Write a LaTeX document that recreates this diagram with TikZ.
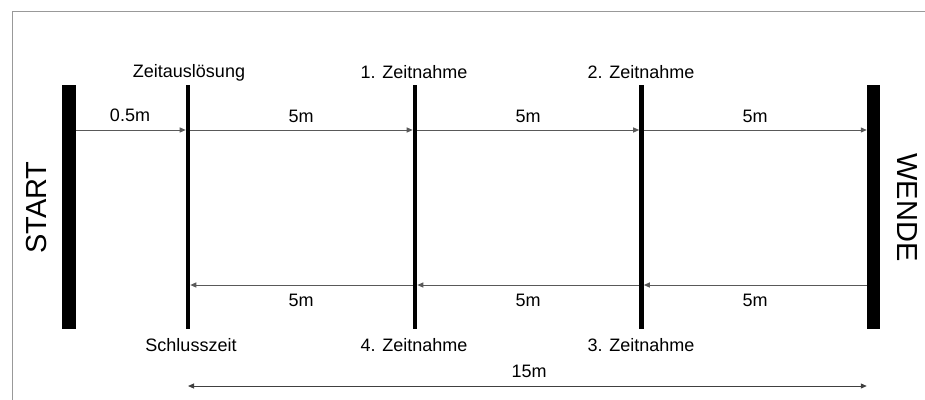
\documentclass[tikz,border=0pt]{standalone}
\usepackage{fontspec}
\setmainfont{Liberation Sans}
\usetikzlibrary{arrows.meta}
\begin{document}
\begin{tikzpicture}[x=1pt,y=-1pt,
  thickbar/.style={fill=black,draw=none,inner sep=0,minimum height=244pt},
  thinbar/.style={fill=black,draw=none,inner sep=0,minimum width=4.2pt,minimum height=244pt},
  dist/.style={draw=black!65,line width=1pt,-{Triangle[length=6pt,width=5pt]}},
  lbl/.style={font=\fontsize{18}{21}\selectfont,inner sep=0},
  big/.style={font=\fontsize{29}{32}\selectfont,inner sep=0}]
\useasboundingbox (0,0) rectangle (925,399);
\draw[black!40,line width=1pt] (12,400) -- (12,11) -- (926,11);
% bars
\node[thickbar,minimum width=14pt] (start) at (69,207) {};
\node[thickbar,minimum width=13pt] (wende) at (873.5,207) {};
\node[thinbar] (b1) at (188,207) {};
\node[thinbar] (b2) at (415,207) {};
\node[thinbar] (b3) at (641.5,207) {};
% levels
\coordinate (top) at (0,130);
\coordinate (bot) at (0,285);
\coordinate (dim) at (0,386);
% top arrows
\draw[dist] (start.east |- top) -- (b1.west |- top);
\draw[dist] (b1.east |- top) -- (b2.west |- top);
\draw[dist] (b2.east |- top) -- (b3.west |- top);
\draw[dist] (b3.east |- top) -- (wende.west |- top);
% bottom arrows
\draw[dist] (wende.west |- bot) -- (b3.east |- bot);
\draw[dist] (b3.west |- bot) -- (b2.east |- bot);
\draw[dist] (b2.west |- bot) -- (b1.east |- bot);
% overall dimension
\draw[draw=black!75,line width=1pt,{Triangle[length=6pt,width=5pt]}-{Triangle[length=6pt,width=5pt]}] (b1 |- dim) -- (wende.west |- dim);
% distance labels
\node[lbl] (d0) at (130,115) {0.5m};
\node[lbl] (d1) at (301,116) {5m};
\node[lbl] (d2) at (528,116) {5m};
\node[lbl] (d3) at (755,116) {5m};
\node[lbl] (d4) at (301,300) {5m};
\node[lbl] (d5) at (528,300) {5m};
\node[lbl] (d6) at (755,300) {5m};
\node[lbl] (d15) at (529,371) {15m};
% bar labels
\node[lbl] (l1) at (189,73) {Zeitauslösung};
\node[lbl] (l2) at (414,72) {1. Zeitnahme};
\node[lbl] (l3) at (641,72) {2. Zeitnahme};
\node[lbl] (l4) at (191,345) {Schlusszeit};
\node[lbl] (l5) at (414,345) {4. Zeitnahme};
\node[lbl] (l6) at (641,345) {3. Zeitnahme};
% start / wende
\node[big,rotate=90] (st) at (37,207.5) {START};
\node[big,rotate=-90] (we) at (907,207.5) {WENDE};
\end{tikzpicture}
\end{document}
